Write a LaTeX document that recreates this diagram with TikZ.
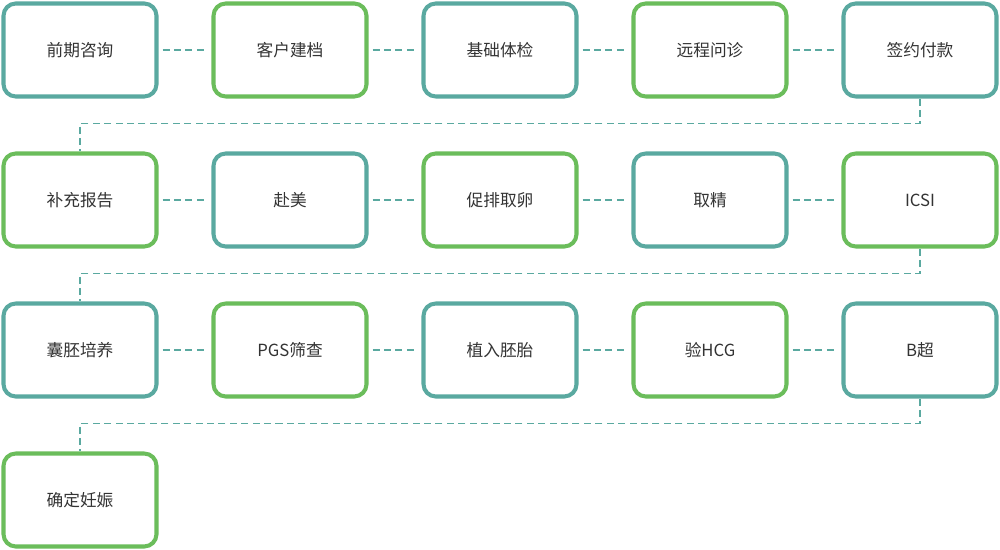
\documentclass[tikz,border=0pt]{standalone}
\usepackage{fontspec}
\newfontfamily\cjk{Noto Sans CJK SC}
\usepackage{tikz}
\definecolor{tealc}{HTML}{5AA9A0}
\definecolor{greenc}{HTML}{6BBD5B}
\tikzstyle{Step}=[rectangle, rounded corners=7pt, line width=2.3pt, minimum width=3.06cm, minimum height=1.86cm, font=\cjk\fontsize{9.5}{11}\selectfont, text=black!80, fill=white]
\tikzstyle{Link}=[tealc, line width=0.8pt, dash pattern=on 4pt off 2.5pt]

\begin{document}
\begin{tikzpicture}
    \useasboundingbox (0,0) rectangle (20,-11);
    % boxes
    \foreach \t [count=\i from 0] in {前期咨询,客户建档,基础体检,远程问诊,签约付款,补充报告,赴美,促排取卵,取精,ICSI,囊胚培养,PGS筛查,植入胚胎,验HCG,B超,确定妊娠} {
        \pgfmathtruncatemacro{\c}{mod(\i,5)}
        \pgfmathtruncatemacro{\r}{div(\i,5)}
        \pgfmathtruncatemacro{\g}{mod(\i,2)}
        \ifnum\g=0 \def\col{tealc}\else \def\col{greenc}\fi
        \node[Step, draw=\col] (s\i) at (1.6+4.2*\c, -1-3*\r) {\t};
    }
    % links
    \foreach \a [count=\b from 1] in {0,...,14} {
        \pgfmathtruncatemacro{\m}{mod(\b,5)}
        \ifnum\m=0
            \draw[Link] (s\a.south) -- ++(0,-0.5) -| (s\b.north);
        \else
            \draw[Link] ([xshift=0.08cm]s\a.east) -- ([xshift=-0.08cm]s\b.west);
        \fi
    }
\end{tikzpicture}
\end{document}
